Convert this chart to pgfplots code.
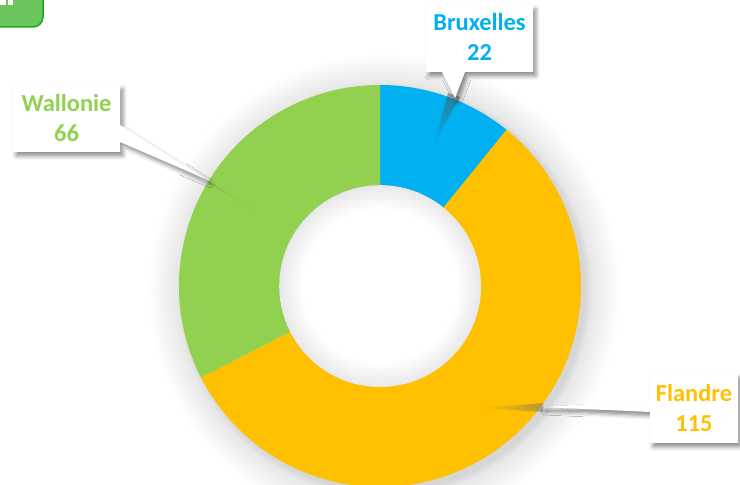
\documentclass[border=0pt]{standalone}
\usepackage{pgfplots}
\pgfplotsset{compat=1.18}
\usepackage{pgfplotstable}
\usepackage{fontspec}
\setmainfont{Carlito}
\usetikzlibrary{shadows.blur,fadings}

\definecolor{cBru}{HTML}{00B0F0}
\definecolor{cFla}{HTML}{FFC000}
\definecolor{cWal}{HTML}{92D050}
\definecolor{badge}{HTML}{6CC45C}
\definecolor{badgeline}{HTML}{1AAA1A}

% soft glow round the ring and inner shadow of the hole
\pgfdeclareradialshading{glow}{\pgfpoint{0bp}{0bp}}{color(0bp)=(black!16); color(21.3bp)=(black!16); color(22bp)=(black!9); color(25bp)=(white)}
\pgfdeclareradialshading{hole}{\pgfpoint{0bp}{0bp}}{color(0bp)=(white); color(19bp)=(white); color(25bp)=(black!9)}

\tikzfading[name=fadeL, left color=transparent!100, right color=transparent!55]
\tikzfading[name=fadeR, left color=transparent!55, right color=transparent!100]
\tikzfading[name=fadeD, top color=transparent!50, bottom color=transparent!100]

\pgfplotstableread{
region value
Bruxelles 22
Flandre 115
Wallonie 66
}\regions

\def\cx{380}\def\cy{199}\def\ro{201}\def\ri{101}
\newcommand\slice[3]{%
  \fill[#3] ({\cx+\ro*cos(#1)},{\cy+\ro*sin(#1)}) arc[start angle=#1,end angle=#2,radius=\ro bp]
    -- ({\cx+\ri*cos(#2)},{\cy+\ri*sin(#2)}) arc[start angle=#2,end angle=#1,radius=\ri bp] -- cycle;}

\tikzset{callout/.style={fill=white, blur shadow={shadow xshift=3bp,shadow yshift=-4bp,shadow blur radius=4bp,shadow opacity=45}},
  lab/.style={font=\fontsize{24.5}{31}\selectfont\bfseries, align=center}}

\begin{document}%
\pgfplotstablegetelem{0}{value}\of\regions\let\vB\pgfplotsretval%
\pgfplotstablegetelem{1}{value}\of\regions\let\vF\pgfplotsretval%
\pgfplotstablegetelem{2}{value}\of\regions\let\vW\pgfplotsretval%
\pgfmathsetmacro\tot{\vB+\vF+\vW}%
\pgfmathsetmacro\aB{90-360*(\vB/\tot)}%
\pgfmathsetmacro\aF{\aB-360*(\vF/\tot)}%
\begin{tikzpicture}
\begin{axis}[x=1bp, y=1bp, xmin=0, xmax=740, ymin=0, ymax=485,
  scale only axis, hide axis, clip=true]
  \coordinate (sw) at (0,0);
  \coordinate (ne) at (740,485);

  % glow behind the donut
  \shade[shading=glow] (384,195) circle[radius=236bp];

  % slices, clockwise from the top
  \slice{90}{\aB}{cBru}
  \slice{\aB}{\aF}{cFla}
  \slice{\aF}{-270}{cWal}
  \shade[shading=hole] (\cx,\cy) circle[radius=\ri bp];

  % leader shadows falling into the slices
  \fill[black!70, path fading=fadeD] (448,392)--(460,388)--(434,341)--cycle;
  \fill[black!70, path fading=fadeR] (201,308)--(213,300)--(254,275)--cycle;
  \fill[black!60, path fading=fadeL] (543,82)--(543,73)--(482,77)--cycle;

  % callouts
  \path[callout] (426,480)--(533,480)--(533,413)--(465,413)--(455,387)--(442,413)--(426,413)--cycle;
  \path[callout] (13,400)--(120,400)--(120,360)--(208,305)--(120,343)--(120,333)--(13,333)--cycle;
  \path[callout] (650,112)--(738,112)--(738,42)--(650,42)--(650,73)--(542,78)--(650,85)--cycle;

  \node[lab, text=cBru] at (479.5,448) {Bruxelles\\22};
  \node[lab, text=cWal] at (66.5,367) {Wallonie\\66};
  \node[lab, text=cFla] at (694,77) {Flandre\\115};

  % badge cut by the top-left corner
  \draw[fill=badge, draw=badgeline, line width=1.5bp, rounded corners=10bp] (-20,458) rectangle (43,500);
  \fill[white] (0,480) rectangle (6,485);
  \fill[white] (8,480) rectangle (13,485);
\end{axis}
\pgfresetboundingbox
\path[use as bounding box] (sw) rectangle (ne);
\end{tikzpicture}%
\end{document}
